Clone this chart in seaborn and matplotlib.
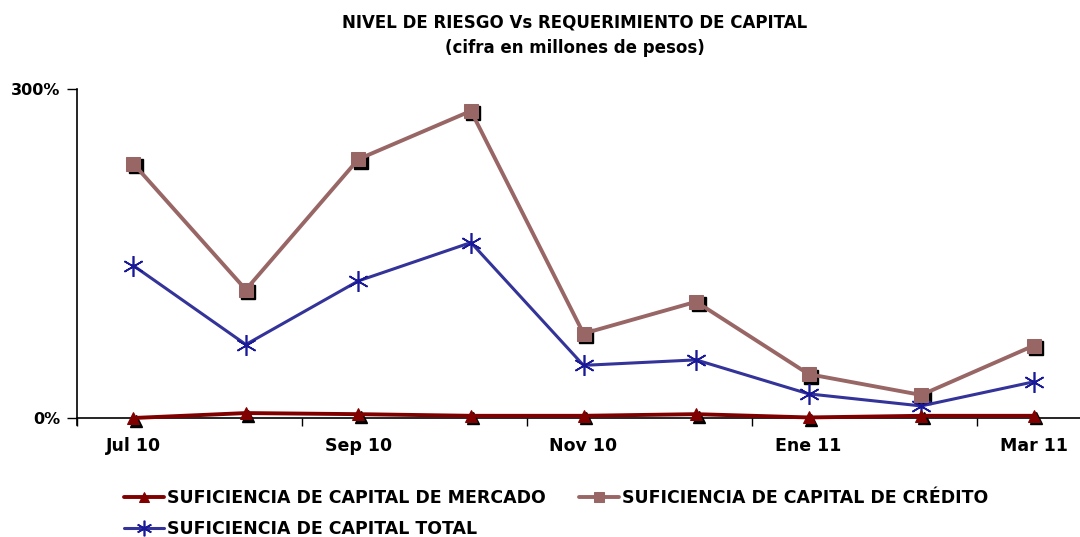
import numpy as np
import pandas as pd
import seaborn as sns
import matplotlib
matplotlib.use("Agg")
import matplotlib.pyplot as plt
from matplotlib.transforms import offset_copy

# Datos
months = ["Jul 10", "Ago 10", "Sep 10", "Oct 10", "Nov 10", "Dic 10", "Ene 11", "Feb 11", "Mar 11"]
mercado = [0.0, 4.5, 3.5, 2.0, 2.0, 3.5, 0.5, 2.0, 2.0]
credito = [232, 117, 236, 280, 77, 106, 40, 21, 66]
total = [139, 67, 125, 160, 48, 53, 22, 11, 33]

lbl_mercado = "SUFICIENCIA DE CAPITAL DE MERCADO"
lbl_credito = "SUFICIENCIA DE CAPITAL DE CRÉDITO"
lbl_total = "SUFICIENCIA DE CAPITAL TOTAL"

df = pd.DataFrame({"mes": months, "mercado": mercado, "credito": credito, "total": total})

sns.set_style("white")
plt.rcParams["font.family"] = ["DejaVu Sans"]
plt.rcParams["font.weight"] = "bold"
plt.rcParams["text.color"] = "black"
plt.rcParams["xtick.color"] = "black"
plt.rcParams["ytick.color"] = "black"

fig = plt.figure(figsize=(10.8, 5.37), dpi=100)
ax = fig.add_axes([0.0713, 0.2216, 0.938, 0.6127])

x = np.arange(len(months))

# sombras negras de los marcadores
shadow = offset_copy(ax.transData, fig=fig, x=2.5, y=-2.5, units="dots")
ax.plot(x, df["credito"], ls="", marker="s", ms=10, color="black", transform=shadow, zorder=2, clip_on=False)
ax.plot(x, df["mercado"], ls="", marker="^", ms=9, color="black", transform=shadow, zorder=4, clip_on=False)

sns.lineplot(x=x, y=df["total"], ax=ax, color="#333399", lw=2.2, marker=(6, 2, 0), ms=15,
             mew=1.2, mec="#1a1a99", label=lbl_total, zorder=2, clip_on=False)
sns.lineplot(x=x, y=df["credito"], ax=ax, color="#996666", lw=2.8, marker="s", ms=10,
             mec="#996666", label=lbl_credito, zorder=3, clip_on=False)
sns.lineplot(x=x, y=df["mercado"], ax=ax, color="#800000", lw=2.8, marker="^", ms=9,
             mec="#800000", label=lbl_mercado, zorder=5, clip_on=False)

ax.set_xlim(-0.5, 8.5)
ax.set_ylim(0, 300)
ax.set_yticks([0, 300])
ax.set_yticklabels(["0%", "300%"], fontsize=11.5, fontweight="bold")
ax.set_xticks(x[::2])
ax.set_xticklabels(months[::2], fontsize=12.5, fontweight="bold")
ax.set_xticks(np.arange(-0.5, 8.5, 2), minor=True)
ax.tick_params(axis="x", which="major", length=0, pad=14)
ax.tick_params(axis="x", which="minor", length=6, width=1, color="black", direction="out", bottom=True)
ax.tick_params(axis="y", length=7, width=1, color="black", direction="out", left=True, pad=5)
ax.set_xlabel("")
ax.set_ylabel("")

for s in ["top", "right"]:
    ax.spines[s].set_visible(False)
for s in ["left", "bottom"]:
    ax.spines[s].set_color("black")
    ax.spines[s].set_linewidth(1.2)
ax.spines["left"].set_bounds(-6, 300)

fig.suptitle("NIVEL DE RIESGO Vs REQUERIMIENTO DE CAPITAL\n(cifra en millones de pesos)",
             x=0.532, y=0.975, fontsize=12, fontweight="bold", linespacing=1.55)

handles, labels = ax.get_legend_handles_labels()
order = [labels.index(lbl_mercado), labels.index(lbl_total), labels.index(lbl_credito)]
ax.get_legend().remove()
fig.legend([handles[i] for i in order], [labels[i] for i in order], ncol=2, frameon=False,
           loc="upper left", bbox_to_anchor=(0.108, 0.103), fontsize=12.5, handlelength=2.3,
           columnspacing=1.9, handletextpad=0.2, labelspacing=0.75, borderaxespad=0,
           markerscale=0.75)

plt.savefig("out.png", dpi=100)
plt.close()
